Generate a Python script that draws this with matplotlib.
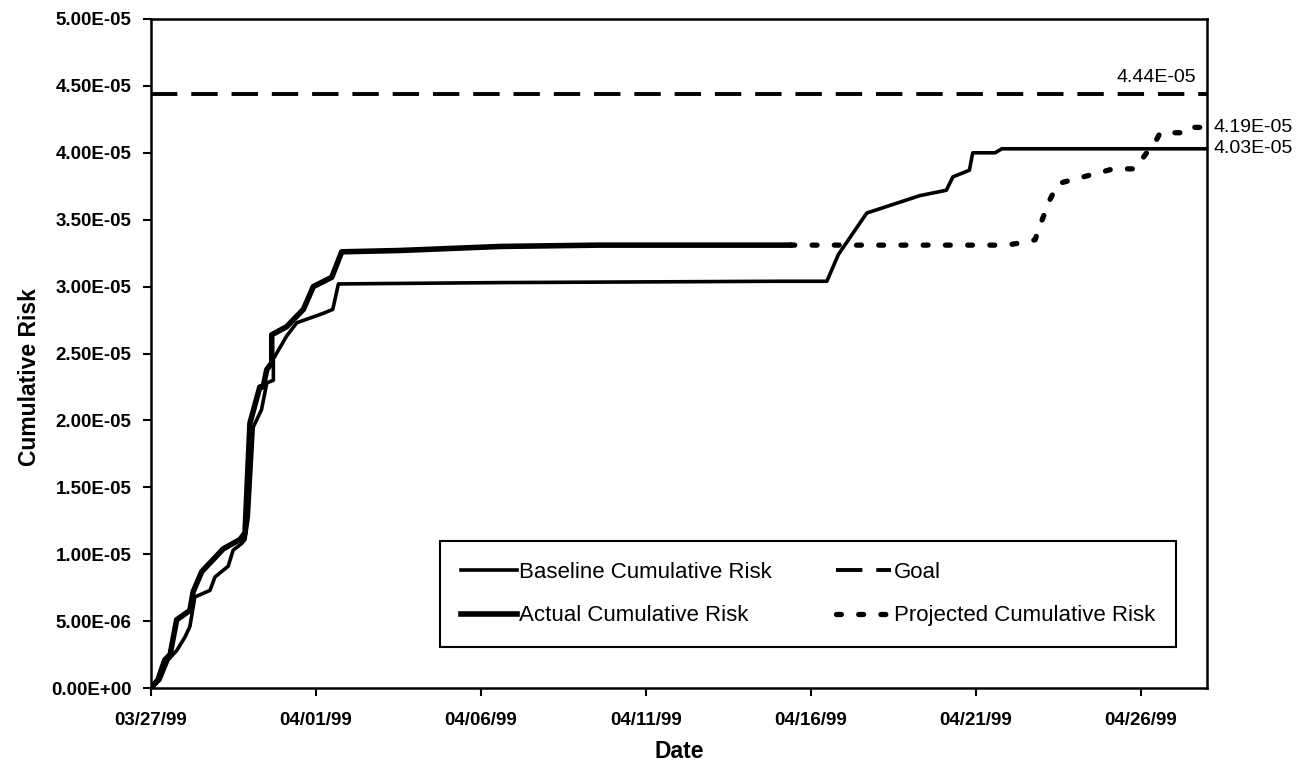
import matplotlib
matplotlib.use("Agg")
import matplotlib.pyplot as plt
from matplotlib.ticker import FuncFormatter

plt.rcParams['font.family'] = ['Liberation Sans', 'DejaVu Sans']
plt.rcParams['lines.scale_dashes'] = False

# ---- data (x = days since 03/27/99, y = cumulative risk in units of 1E-05) ----
tick_days = [0, 5, 10, 15, 20, 25, 30]
tick_labels = ['03/27/99', '04/01/99', '04/06/99', '04/11/99', '04/16/99', '04/21/99', '04/26/99']

baseline_days = [0, 0.27, 0.52, 0.78, 1.03, 1.18, 1.33, 1.79, 1.94, 2.34, 2.49, 2.75, 2.85, 2.95,
                 3.10, 3.35, 3.51, 3.71, 3.71, 4.11, 4.42, 5.22, 5.51, 5.68, 10.58, 19.06, 20.48,
                 20.83, 21.69, 23.30, 24.10, 24.30, 24.80, 24.90, 25.58, 25.78, 32.0]
baseline_vals = [0, 0.06, 0.21, 0.28, 0.38, 0.46, 0.68, 0.73, 0.83, 0.91, 1.03, 1.08, 1.11, 1.28,
                 1.95, 2.08, 2.28, 2.30, 2.46, 2.63, 2.73, 2.80, 2.83, 3.02, 3.03, 3.04, 3.04,
                 3.24, 3.55, 3.68, 3.72, 3.82, 3.87, 4.00, 4.00, 4.03, 4.03]

actual_days = [0, 0.21, 0.42, 0.58, 0.78, 1.18, 1.28, 1.54, 2.19, 2.70, 2.85, 3.00, 3.30, 3.40,
               3.51, 3.66, 3.66, 4.11, 4.62, 4.92, 5.48, 5.78, 7.55, 10.58, 13.6, 19.36]
actual_vals = [0, 0.06, 0.21, 0.25, 0.51, 0.58, 0.72, 0.87, 1.04, 1.11, 1.16, 1.98, 2.25, 2.25,
               2.38, 2.43, 2.64, 2.70, 2.83, 3.00, 3.07, 3.26, 3.27, 3.30, 3.31, 3.31]

projected_days = [19.36, 25.93, 26.43, 26.79, 26.99, 27.24, 27.49, 28.25, 29.16, 29.82, 30.17,
                  30.37, 30.58, 31.18, 31.33, 32.0]
projected_vals = [3.31, 3.31, 3.33, 3.35, 3.49, 3.65, 3.77, 3.82, 3.88, 3.88, 4.00,
                  4.05, 4.15, 4.15, 4.19, 4.19]

goal_days = [0, 32.0]
goal_vals = [4.44, 4.44]

scale = 1e-5
labels = ['Baseline Cumulative Risk', 'Goal', 'Actual Cumulative Risk', 'Projected Cumulative Risk']

fig = plt.figure(figsize=(12.99, 7.66), dpi=100)
ax = fig.add_axes([0.1162, 0.1018, 0.8130, 0.8734])

l_goal, = ax.plot(goal_days, [v * scale for v in goal_vals], color='black', lw=2.8,
                  dashes=(19, 10), label=labels[1])
l_base, = ax.plot(baseline_days, [v * scale for v in baseline_vals], color='black', lw=2.6,
                  label=labels[0], solid_joinstyle='round')
l_act, = ax.plot(actual_days, [v * scale for v in actual_vals], color='black', lw=4.0,
                 label=labels[2], solid_joinstyle='round')
l_proj, = ax.plot(projected_days, [v * scale for v in projected_vals], color='black', lw=3.8,
                  dashes=(3.5, 12.5), dash_capstyle='round', label=labels[3])

ax.set_xlim(0, 32)
ax.set_ylim(0, 5e-5)
ax.set_xticks(tick_days)
ax.set_xticklabels(tick_labels)
ax.set_yticks([i * 0.5e-5 for i in range(11)])
ax.yaxis.set_major_formatter(FuncFormatter(lambda v, p: '%.2E' % v))

for sp in ax.spines.values():
    sp.set_linewidth(1.8)
    sp.set_color('black')
ax.tick_params(axis='both', direction='out', length=6, width=1.5, colors='black')
ax.tick_params(axis='y', pad=8)
ax.tick_params(axis='x', pad=11)
for t in ax.get_xticklabels() + ax.get_yticklabels():
    t.set_fontsize(13.5)
    t.set_fontweight('bold')

ax.set_xlabel('Date', fontsize=16.5, fontweight='bold')
ax.set_ylabel('Cumulative Risk', fontsize=16.5, fontweight='bold')
ax.xaxis.set_label_coords(0.5, -0.077)
ax.yaxis.set_label_coords(-0.104, 0.465)

# end-value annotations
ax.annotate('%.2E' % (goal_vals[-1] * scale), xy=(goal_days[-1], goal_vals[-1] * scale),
            xytext=(-8, 12), textcoords='offset points', ha='right', va='center',
            fontsize=14, annotation_clip=False)
ax.annotate('%.2E' % (projected_vals[-1] * scale), xy=(projected_days[-1], projected_vals[-1] * scale),
            xytext=(5, 0), textcoords='offset points', ha='left', va='center',
            fontsize=14, annotation_clip=False)
ax.annotate('%.2E' % (baseline_vals[-1] * scale), xy=(baseline_days[-1], baseline_vals[-1] * scale),
            xytext=(5, 0), textcoords='offset points', ha='left', va='center',
            fontsize=14, annotation_clip=False)

leg = ax.legend([l_base, l_act, l_goal, l_proj],
                [labels[0], labels[2], labels[1], labels[3]],
                ncol=2, loc='upper left', bbox_to_anchor=(0.2737, 0.0613, 0.697, 0.1584),
                mode='expand', borderaxespad=0, fontsize=16, frameon=True, fancybox=False,
                edgecolor='black', framealpha=1, handlelength=2.5, handletextpad=0.12,
                borderpad=0.95, labelspacing=1.0)
leg.get_frame().set_linewidth(1.5)

fig.savefig('out.png', dpi=100, facecolor='white')
